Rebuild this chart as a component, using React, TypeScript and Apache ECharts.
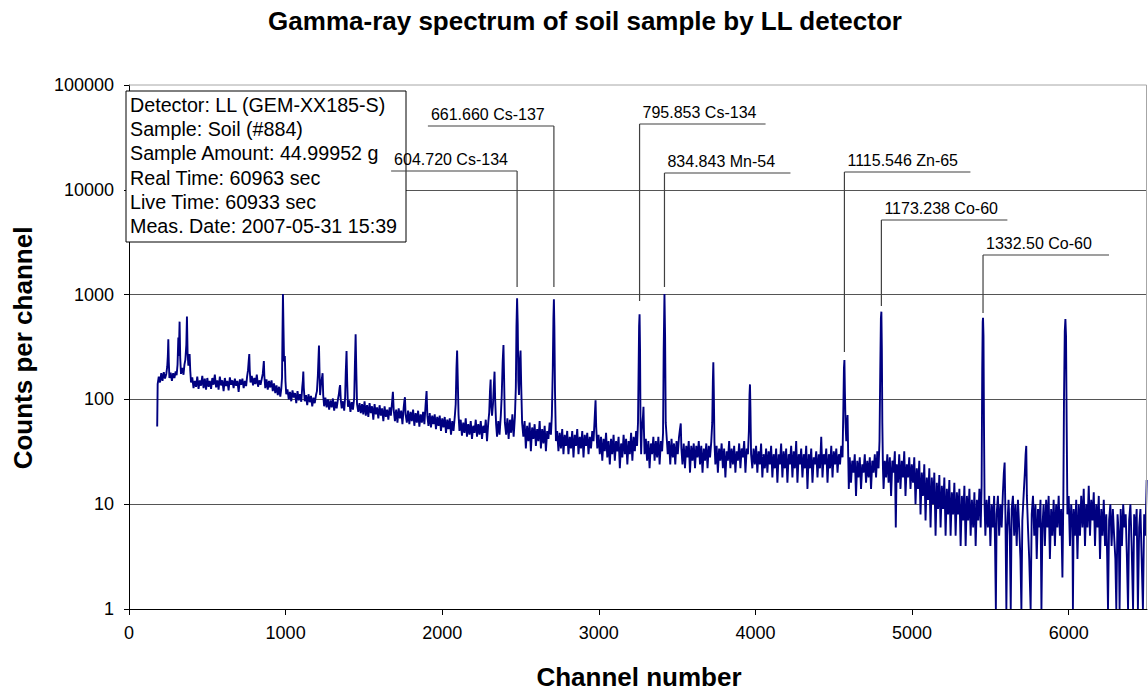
import React, { useEffect, useRef } from "react";
import * as echarts from "echarts";

// ---------- data: [channel, counts per channel] ----------
const spectrumA: number[][] = [
  [180,55],[183,140],[190,165],[198,145],[206,178],[214,150],[222,182],[230,158],[238,175],[244,205],[248,260],[251,374],[254,230],[258,160],[266,180],[274,150],[282,178],[290,160],[298,185],[304,170],[310,215],[315,390],[318,260],[323,552],[327,250],[332,175],[340,200],[348,172],[354,215],[360,240],[366,330],[370,617],[374,280],[379,210],[383,230],[387,271],[391,190],[396,145],
  [404,162],[412,128],[420,150],[428,132],[436,165],[444,126],[452,152],[460,135],[468,168],[476,128],[484,158],[492,124],[500,160],[508,132],[516,150],[524,126],[532,160],[540,138],[548,172],[556,130],[564,152],[572,124],[580,165],[588,136],[596,152],[604,120],[612,160],[620,134],[628,150],[636,122],[644,162],[652,138],[660,152],[668,128],[676,158],[684,135],[692,150],[700,118],[708,155],[716,138],[724,158],[732,128],[740,150],[748,134],[754,165],[760,190],[765,240],[768,271],[771,190],[776,145],[784,168],[792,136],[800,160],[808,140],[816,172],[824,132],[832,152],[840,138],[848,158],[854,175],[858,205],[861,232],[864,170],[870,128],[878,155],[886,124],[894,150],[902,130],[910,152],[918,120],[926,142],[934,115],[942,136],[950,110],[958,132],[966,106],[972,125],[977,160],[980,420],[983,1013],[986,520],[990,230],[995,260],[999,150],[1004,112]
];
const spectrumB: number[][] = [
  [1012,125],[1020,100],[1028,118],[1036,96],[1044,122],[1052,104],[1060,115],[1068,92],[1076,120],[1084,98],[1092,112],[1100,95],[1106,130],[1110,150],[1113,184],[1116,130],[1122,96],[1130,110],[1138,88],[1146,112],[1154,94],[1162,108],[1170,86],[1178,104],[1186,92],[1194,110],[1200,120],[1206,170],[1210,250],[1213,326],[1216,200],[1220,110],[1226,140],[1232,160],[1236,178],[1240,110],[1246,86],[1254,104],[1262,84],[1270,100],[1278,80],[1286,98],[1294,84],[1302,102],[1310,78],[1318,95],[1326,82],[1334,100],[1340,112],[1345,130],[1348,137],[1352,100],[1358,82],[1366,96],[1374,78],[1380,105],[1384,180],[1389,290],[1393,150],[1398,85],[1406,98],[1414,76],[1422,94],[1430,80],[1438,104],[1442,200],[1447,418],[1451,200],[1456,90],[1464,76],[1472,92],[1480,74],[1488,90],[1496,72],
  [1504,96],[1512,70],[1520,88],[1528,68],[1536,92],[1544,74],[1552,86],[1560,64],[1568,90],[1576,72],[1584,84],[1592,66],[1600,88],[1608,70],[1616,82],[1624,62],[1632,86],[1640,68],[1648,80],[1656,64],[1664,84],[1672,70],[1680,95],[1685,118],[1690,80],[1698,62],[1706,80],[1714,60],[1722,82],[1730,66],[1738,78],[1746,58],[1754,84],[1758,96],[1762,105],[1766,72],[1774,60],[1782,78],[1790,58],[1798,76],[1806,62],[1814,80],[1822,56],[1830,74],[1838,60],[1846,78],[1854,55],[1862,72],[1870,60],[1878,76],[1886,58],[1894,90],[1900,120],[1905,70],[1912,56],[1920,74],[1928,54],[1936,70],[1944,58],[1952,72],[1960,52],[1968,68],[1976,56],[1984,70],[1992,50]
];
const spectrumC: number[][] = [
  [2000,66],[2008,54],[2016,68],[2024,48],[2032,64],[2040,52],[2048,66],[2056,46],[2064,62],[2072,50],[2080,68],[2086,90],[2091,200],[2095,292],[2099,160],[2104,72],[2110,50],[2118,64],[2126,45],[2134,60],[2142,48],[2150,66],[2158,44],[2166,58],[2174,46],[2182,62],[2190,42],[2198,56],[2206,48],[2214,64],[2222,44],[2230,58],[2238,46],[2246,62],[2254,42],[2262,56],[2270,48],[2278,64],[2286,40],[2294,60],[2300,75],[2305,120],[2309,155],[2312,90],[2318,70],[2324,90],[2330,140],[2334,184],[2338,100],[2344,58],[2350,44],[2358,62],[2366,46],[2374,70],[2380,110],[2386,230],[2391,330],[2395,160],[2400,60],[2408,46],[2416,66],[2424,42],[2432,64],[2440,48],[2448,72],[2456,44],[2464,68],[2470,130],[2474,500],[2478,922],[2482,520],[2486,150],[2490,110],[2496,240],[2500,292],[2504,140],
  [2510,60],[2518,44],[2526,62],[2534,34],[2542,56],[2550,40],[2558,60],[2566,32],[2574,54],[2582,42],[2590,58],[2598,36],[2606,52],[2614,40],[2622,62],[2630,34],[2638,52],[2646,38],[2654,56],[2662,32],[2670,50],[2678,42],[2686,60],[2694,46],[2700,70],[2706,200],[2710,600],[2713,902],[2716,500],[2720,120],[2726,40],[2734,50],[2742,32],[2750,48],[2758,34],[2766,52],[2774,30],[2782,46],[2790,36],[2798,50],[2806,30],[2814,44],[2822,34],[2830,50],[2838,28],[2846,46],[2854,36],[2862,52],[2870,30],[2878,44],[2886,34],[2894,50],[2902,28],[2910,46],[2918,36],[2926,48],[2934,30],[2942,44],[2950,34],[2958,50],[2966,40],[2972,60],[2976,80],[2979,98],[2983,55],[2990,34],[2998,46]
];
const spectrumD: number[][] = [
  [3006,30],[3014,44],[3022,26],[3030,42],[3038,32],[3046,48],[3054,28],[3062,40],[3070,24],[3078,42],[3086,30],[3094,46],[3102,26],[3110,40],[3118,32],[3126,44],[3134,22],[3142,38],[3150,28],[3158,46],[3166,30],[3174,42],[3182,24],[3190,40],[3198,30],[3206,48],[3214,26],[3222,44],[3230,32],[3238,50],[3244,36],[3250,60],[3254,200],[3257,500],[3260,649],[3263,300],[3266,60],[3270,30],[3274,50],[3278,60],[3282,70],[3285,85],[3288,50],[3292,30],[3300,42],[3308,26],[3316,40],[3324,22],[3332,38],[3340,30],[3348,44],[3356,26],[3364,40],[3372,28],[3380,44],[3388,24],[3396,40],[3404,32],[3410,48],[3414,300],[3419,1013],[3423,400],[3427,60],[3432,46],[3440,30],[3448,40],[3456,24],[3464,42],[3472,28],[3480,38],[3488,24],[3496,40],
  [3504,30],[3512,44],[3518,52],[3523,59],[3527,34],[3534,24],[3542,38],[3550,22],[3558,36],[3566,28],[3574,40],[3582,20],[3590,36],[3598,26],[3606,38],[3614,22],[3622,36],[3630,28],[3638,40],[3646,24],[3654,36],[3662,20],[3670,34],[3678,26],[3686,38],[3694,22],[3702,36],[3710,28],[3718,40],[3724,60],[3728,150],[3731,226],[3734,120],[3738,40],[3744,24],[3752,36],[3760,20],[3768,34],[3776,26],[3784,38],[3792,22],[3800,34],[3808,18],[3816,32],[3824,26],[3832,40],[3840,22],[3848,34],[3856,24],[3864,36],[3872,20],[3880,32],[3888,26],[3896,38],[3904,22],[3912,34],[3920,28],[3928,40],[3936,20],[3944,34],[3952,30],[3958,50],[3962,110],[3965,139],[3968,80],[3972,30],[3980,22],[3988,34],[3996,24]
];
const spectrumE: number[][] = [
  [4004,36],[4012,20],[4020,32],[4028,24],[4036,38],[4044,18],[4052,30],[4060,22],[4068,34],[4076,20],[4084,32],[4092,24],[4100,36],[4108,18],[4116,30],[4124,22],[4132,34],[4140,16],[4148,30],[4156,24],[4164,38],[4172,18],[4180,32],[4188,22],[4196,34],[4204,16],[4212,30],[4220,24],[4228,36],[4236,18],[4244,32],[4252,22],[4260,40],[4268,16],[4276,30],[4284,24],[4292,34],[4300,18],[4308,30],[4316,22],[4324,36],[4332,14],[4340,30],[4348,22],[4356,34],[4364,16],[4372,28],[4380,24],[4388,32],[4396,18],[4404,30],[4412,22],[4420,44],[4428,18],[4436,30],[4444,24],[4452,34],[4460,16],[4468,30],[4476,22],[4484,36],[4492,18],[4500,32],
  [4508,24],[4516,34],[4524,20],[4532,30],[4540,24],[4548,36],[4556,28],[4561,80],[4565,200],[4568,238],[4571,120],[4575,60],[4580,40],[4585,60],[4588,71],[4592,30],[4596,14],[4602,28],[4610,16],[4618,26],[4626,20],[4634,30],[4642,12],[4650,26],[4658,18],[4666,28],[4674,14],[4682,24],[4690,20],[4698,30],[4706,16],[4714,26],[4722,18],[4730,28],[4738,14],[4746,26],[4754,20],[4762,30],[4770,18],[4778,32],[4786,22],[4792,40],[4797,200],[4801,600],[4804,687],[4807,300],[4810,60],[4814,22],[4818,14],[4826,26],[4834,18],[4842,30],[4850,16],[4858,28],[4866,12],[4874,26],[4882,20],[4890,32],[4896,6],[4902,24],[4910,16],[4918,30],[4926,14],[4934,26],[4942,18],[4950,32],[4958,12],[4966,24],[4974,18],[4982,28],[4990,14],[4998,24]
];
const spectrumF: number[][] = [
  [5006,16],[5014,28],[5022,10],[5030,22],[5038,14],[5046,26],[5054,8],[5062,20],[5070,12],[5078,24],[5086,7],[5094,18],[5102,11],[5110,22],[5118,6],[5126,18],[5134,10],[5142,20],[5150,5],[5158,16],[5166,9],[5174,19],[5182,6],[5190,15],[5198,9],[5206,18],[5214,5],[5222,14],[5230,8],[5238,17],[5246,5],[5254,13],[5262,8],[5270,16],[5278,5],[5286,13],[5294,8],[5302,14],[5310,4],[5318,12],[5326,7],[5334,15],[5342,4],[5350,12],[5358,7],[5366,14],[5374,5],[5382,11],[5390,6],[5398,13],[5406,4],[5414,11],[5422,7],[5430,14],[5438,6],[5444,15],[5448,200],[5451,550],[5453,602],[5456,400],[5459,60],[5463,10],[5468,5],[5476,11],[5484,6],[5492,12],
  [5500,4],[5508,10],[5516,6],[5524,12],[5530,4],[5535,1],[5540,8],[5548,12],[5556,5],[5564,10],[5572,6],[5580,13],[5586,20],[5591,25],[5596,8],[5602,1],[5608,6],[5616,11],[5624,5],[5630,1],[5636,9],[5644,12],[5652,5],[5660,10],[5668,4],[5676,11],[5684,6],[5692,3],[5698,1],[5704,7],[5712,12],[5720,20],[5725,30],[5729,36],[5733,12],[5740,6],[5748,3],[5757,1],[5764,8],[5772,12],[5780,5],[5788,10],[5796,3],[5804,9],[5812,6],[5820,11],[5826,1],[5832,6],[5840,10],[5848,4],[5856,11],[5864,6],[5872,12],[5880,3],[5888,9],[5896,5],[5904,11],[5912,4],[5920,10],[5928,6],[5936,12],[5944,5],[5952,9],[5960,2],[5966,12],[5970,100],[5975,450],[5979,585],[5983,400],[5987,60],[5992,8],
  [6000,12],[6008,4],[6016,10],[6024,6],[6027,1],[6032,9],[6040,5],[6048,11],[6056,3],[6064,10],[6072,5],[6080,12],[6088,6],[6096,14],[6104,4],[6112,10],[6120,6],[6128,15],[6136,5],[6144,11],[6152,7],[6160,13],[6168,4],[6176,10],[6184,6],[6192,12],[6200,3],[6208,9],[6216,5],[6224,11],[6232,4],[6240,8],[6246,3],[6251,1],[6258,7],[6266,10],[6274,4],[6282,9],[6290,5],[6298,3],[6304,1],[6312,8],[6320,5],[6325,1],[6332,9],[6340,4],[6348,10],[6356,6],[6364,8],[6372,3],[6379,1],[6386,7],[6394,10],[6402,4],[6411,1],[6418,8],[6426,5],[6434,9],[6442,1],[6450,6],[6458,9],[6466,3],[6474,1],[6482,8],[6490,5],[6498,17]
];

const yTicks = [1, 10, 100, 1000, 10000, 100000];
const xTicks = [0, 1000, 2000, 3000, 4000, 5000, 6000];

const peakLabels = ["604.720 Cs-134", "661.660 Cs-137", "795.853 Cs-134", "834.843 Mn-54", "1115.546 Zn-65", "1173.238 Co-60", "1332.50 Co-60"];
const peakChannels = [2478, 2713, 3260, 3419, 4568, 4804, 5453];

const infoLines = [
  "Detector: LL (GEM-XX185-S)",
  "Sample: Soil (#884)",
  "Sample Amount: 44.99952 g",
  "Real Time: 60963 sec",
  "Live Time: 60933 sec",
  "Meas. Date: 2007-05-31 15:39",
];

const titleText = "Gamma-ray spectrum of soil sample by LL detector";
const xTitle = "Channel number";
const yTitle = "Counts per channel";

// ---------- layout (pixels) ----------
const annotDir = [-1, -1, 1, 1, 1, 1, 1];
const annotLineY = [171, 126, 124, 173, 172, 220, 255];
const annotBottomY = [287, 287, 301, 287, 352, 306, 313];
const FONT = '"Liberation Sans", Arial, Helvetica, sans-serif';

export default function App() {
  const ref = useRef<HTMLDivElement>(null);

  useEffect(() => {
    const chart = echarts.init(ref.current!, null, { renderer: "svg" });
    const spectrum = [...spectrumA, ...spectrumB, ...spectrumC, ...spectrumD, ...spectrumE, ...spectrumF];

    chart.setOption({
      animation: false,
      backgroundColor: "#ffffff",
      textStyle: { fontFamily: FONT },
      grid: { left: 129, top: 85, right: 1, bottom: 84, containLabel: false },
      xAxis: {
        type: "value",
        min: 0,
        max: 6500,
        interval: 1000,
        axisLine: { onZero: false, lineStyle: { color: "#000", width: 1 } },
        axisTick: { show: true, length: 6, inside: false, lineStyle: { color: "#000" } },
        axisLabel: {
          color: "#000",
          fontSize: 18,
          fontFamily: FONT,
          margin: 15,
          showMaxLabel: false,
          formatter: (v: number) => (xTicks.indexOf(v) >= 0 ? String(v) : ""),
        },
        splitLine: { show: false },
      },
      yAxis: {
        type: "log",
        logBase: 10,
        min: yTicks[0],
        max: yTicks[yTicks.length - 1],
        axisLine: { show: true, lineStyle: { color: "#000", width: 1 } },
        axisTick: { show: true, length: 5, inside: false, lineStyle: { color: "#000" } },
        axisLabel: {
          color: "#000",
          fontSize: 18,
          fontFamily: FONT,
          margin: 15,
          formatter: (v: number) => String(Math.round(v)),
        },
        splitLine: { show: true, showMaxLine: false, showMinLine: false, lineStyle: { color: "#555555", width: 1 } },
        minorTick: { show: false },
        minorSplitLine: { show: false },
      },
      series: [
        {
          type: "line",
          data: spectrum,
          showSymbol: false,
          symbol: "none",
          clip: true,
          lineStyle: { color: "#000080", width: 1.9 },
          z: 3,
        },
      ],
    });

    const px = (ch: number, v: number) => chart.convertToPixel({ gridIndex: 0 }, [ch, v]) as number[];
    const tl = px(0, 100000);
    const br = px(6500, 1);

    const elements: any[] = [];
    // plot border (top, right)
    elements.push({
      type: "polyline",
      z: 5,
      shape: { points: [[tl[0], tl[1]], [br[0] - 0.5, tl[1]], [br[0] - 0.5, br[1]]] },
      style: { stroke: "#a6a6a6", lineWidth: 1, fill: null },
    });
    // info box
    elements.push({
      type: "rect",
      z: 20,
      shape: { x: 126, y: 91, width: 280, height: 151 },
      style: { fill: "#ffffff", stroke: "#000", lineWidth: 1 },
    });
    infoLines.forEach((t, i) => {
      elements.push({
        type: "text",
        z: 21,
        x: 130,
        y: 105 + i * 24.2,
        style: { text: t, font: `19.7px ${FONT}`, fill: "#000", align: "left", verticalAlign: "middle" },
      });
    });
    // peak annotations
    peakLabels.forEach((label, i) => {
      const xp = px(peakChannels[i], 1)[0];
      const ly = annotLineY[i];
      const x0 = annotDir[i] < 0 ? xp - 126 : xp;
      const x1 = annotDir[i] < 0 ? xp : xp + 126;
      elements.push({
        type: "line",
        z: 30,
        shape: { x1: x0, y1: ly, x2: x1, y2: ly },
        style: { stroke: "#404040", lineWidth: 1.2 },
      });
      elements.push({
        type: "line",
        z: 30,
        shape: { x1: xp, y1: ly, x2: xp, y2: annotBottomY[i] },
        style: { stroke: "#404040", lineWidth: 1.2 },
      });
      elements.push({
        type: "text",
        z: 31,
        x: x0 + 3,
        y: ly - 12,
        style: { text: label, font: `16px ${FONT}`, fill: "#000", align: "left", verticalAlign: "middle" },
      });
    });
    // titles
    elements.push({
      type: "text",
      z: 30,
      x: 585,
      y: 21,
      style: { text: titleText, font: `bold 26px ${FONT}`, fill: "#000", align: "center", verticalAlign: "middle" },
    });
    elements.push({
      type: "text",
      z: 30,
      x: 639,
      y: 677,
      style: { text: xTitle, font: `bold 26px ${FONT}`, fill: "#000", align: "center", verticalAlign: "middle" },
    });
    elements.push({
      type: "text",
      z: 30,
      x: 23,
      y: 348,
      rotation: Math.PI / 2,
      style: { text: yTitle, font: `bold 26px ${FONT}`, fill: "#000", align: "center", verticalAlign: "middle" },
    });

    chart.setOption({ graphic: { elements } });

    return () => chart.dispose();
  }, []);

  return (
    <div
      ref={ref}
      style={{ position: "fixed", left: 0, top: 0, width: 1148, height: 693, background: "#fff" }}
    />
  );
}
